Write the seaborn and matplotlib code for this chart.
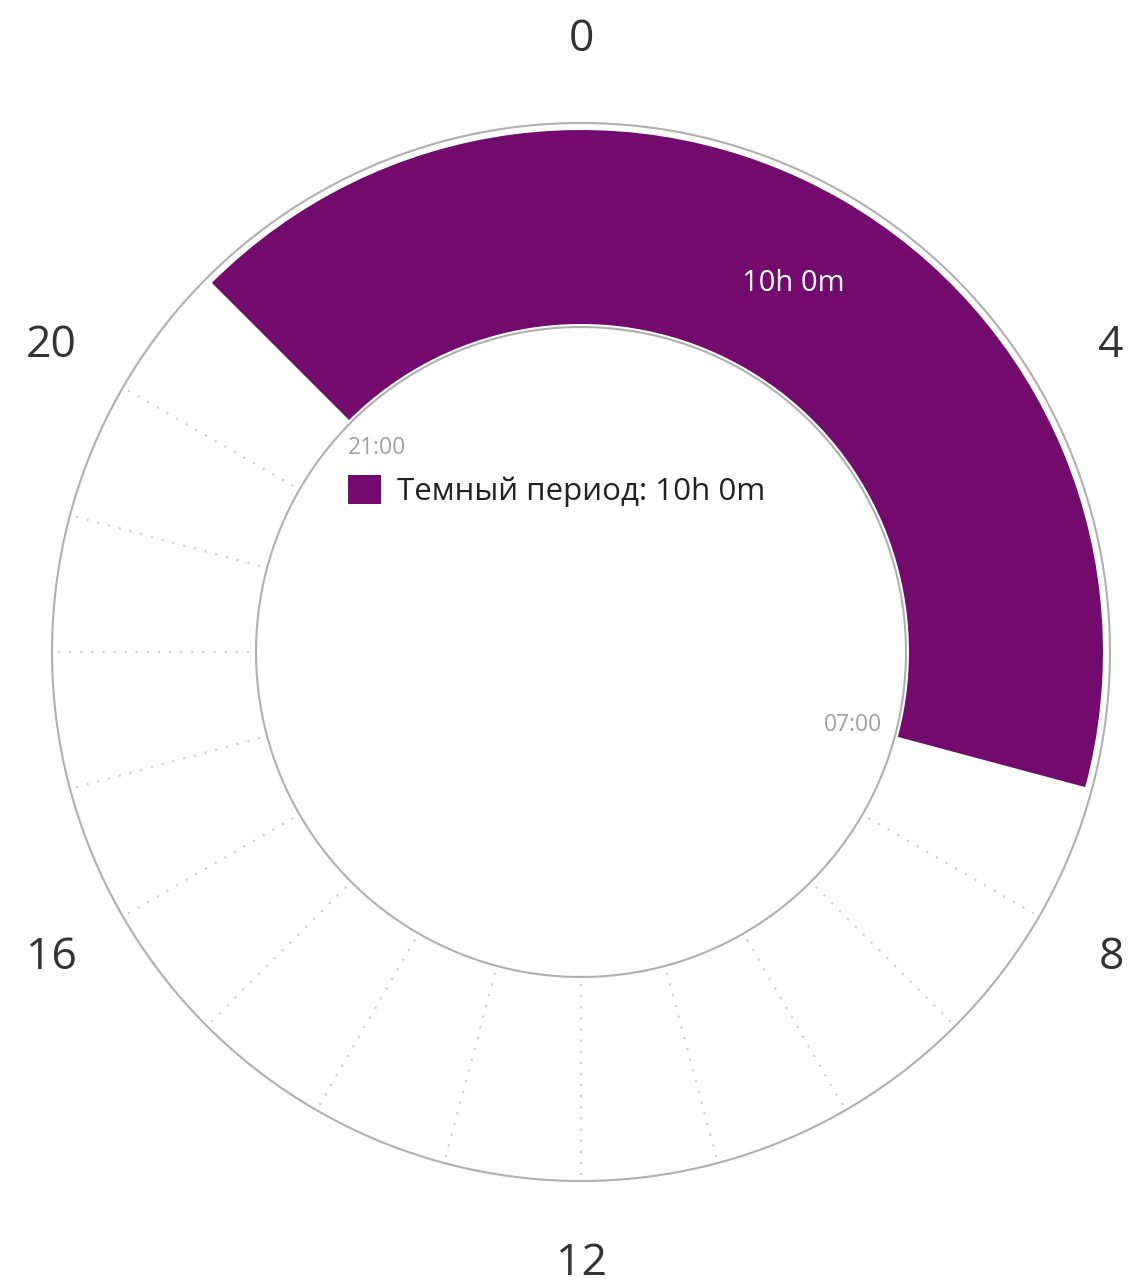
import numpy as np
import pandas as pd
import matplotlib
matplotlib.use("Agg")
import matplotlib.pyplot as plt
from matplotlib.patches import Patch
import seaborn as sns

# Dark period of the day (24 h clock)
dark_start_hour = 21
dark_duration_hours = 10
dark_label = "Темный период: 10h 0m"
duration_text = "10h 0m"
start_text = "21:00"
end_text = "07:00"
hour_tick_values = [0, 4, 8, 12, 16, 20]
hour_tick_labels = ["0", "4", "8", "12", "16", "20"]

PURPLE = "#730b6e"
RING_GREY = "#b0b0b0"
DOT_GREY = "#d0d0d0"

sns.set_theme(style="white")
plt.rcParams["font.family"] = ["Open Sans", "DejaVu Sans"]

W, H, DPI = 1133, 1288, 100
fig = plt.figure(figsize=(W / DPI, H / DPI), dpi=DPI)
fig.patch.set_facecolor("white")

# polar axes whose radial unit is one pixel
R_MAX = 540
cx, cy = 581, 652
ax = fig.add_axes([(cx - R_MAX) / W, (H - cy - R_MAX) / H, 2 * R_MAX / W, 2 * R_MAX / H],
                  projection="polar")
ax.set_theta_zero_location("N")
ax.set_theta_direction(-1)
ax.set_ylim(0, R_MAX)
ax.set_axis_off()


def hour_to_theta(h):
    return np.asarray(h) / 24.0 * 2 * np.pi


R_IN, R_OUT = 325, 529
BAR_IN, BAR_OUT = 328, 522

# ring outlines
circle_theta = np.linspace(0, 2 * np.pi, 721)
for r in (R_IN, R_OUT):
    ax.plot(circle_theta, np.full_like(circle_theta, r), color=RING_GREY, lw=1.5, zorder=2)

# dotted hour separators outside the dark period
dark_hours = {(dark_start_hour + k) % 24 for k in range(dark_duration_hours + 1)}
light_hours = [h for h in range(24) if h not in dark_hours]
rows = []
for h in light_hours:
    for r in (R_IN + 7, R_OUT - 6):
        rows.append({"hour": h, "theta": float(hour_to_theta(h)), "r": r})
sep = pd.DataFrame(rows)
sns.lineplot(data=sep, x="theta", y="r", units="hour", estimator=None, sort=False,
             color=DOT_GREY, lw=1.6, linestyle=(0, (1, 4)), ax=ax, legend=False, zorder=1)
ax.set_xlabel("")
ax.set_ylabel("")

# dark period arc
width = hour_to_theta(dark_duration_hours)
mid = hour_to_theta(dark_start_hour) + width / 2
ax.bar(mid, BAR_OUT - BAR_IN, width=width, bottom=BAR_IN, color=PURPLE,
       edgecolor="none", align="center", zorder=3)
ax.set_ylim(0, R_MAX)

# duration inside the arc
ax.text(mid, (BAR_IN + BAR_OUT) / 2, duration_text, color="white", fontsize=21,
        ha="center", va="center", zorder=4)

# start / end times
ax.text(hour_to_theta(dark_start_hour), 288, start_text, color="#a0a0a0", fontsize=16.5,
        ha="center", va="center")
ax.text(hour_to_theta(dark_start_hour + dark_duration_hours), 282, end_text, color="#a0a0a0",
        fontsize=16.5, ha="center", va="center")

# hour labels around the dial
for h, lab in zip(hour_tick_values, hour_tick_labels):
    ax.text(hour_to_theta(h), 612, lab, color="#333333", fontsize=32,
            ha="center", va="center", clip_on=False)

# legend
leg = ax.legend(handles=[Patch(facecolor=PURPLE, edgecolor="none", label=dark_label)],
                loc="center left", bbox_to_anchor=(348 / W, 1 - 491 / H),
                bbox_transform=fig.transFigure, frameon=False, fontsize=22.5,
                handlelength=1.05, handleheight=1.05, handletextpad=0.52, borderpad=0,
                borderaxespad=0)
for t in leg.get_texts():
    t.set_color("#222222")

fig.savefig("out.png", dpi=DPI, facecolor="white")
